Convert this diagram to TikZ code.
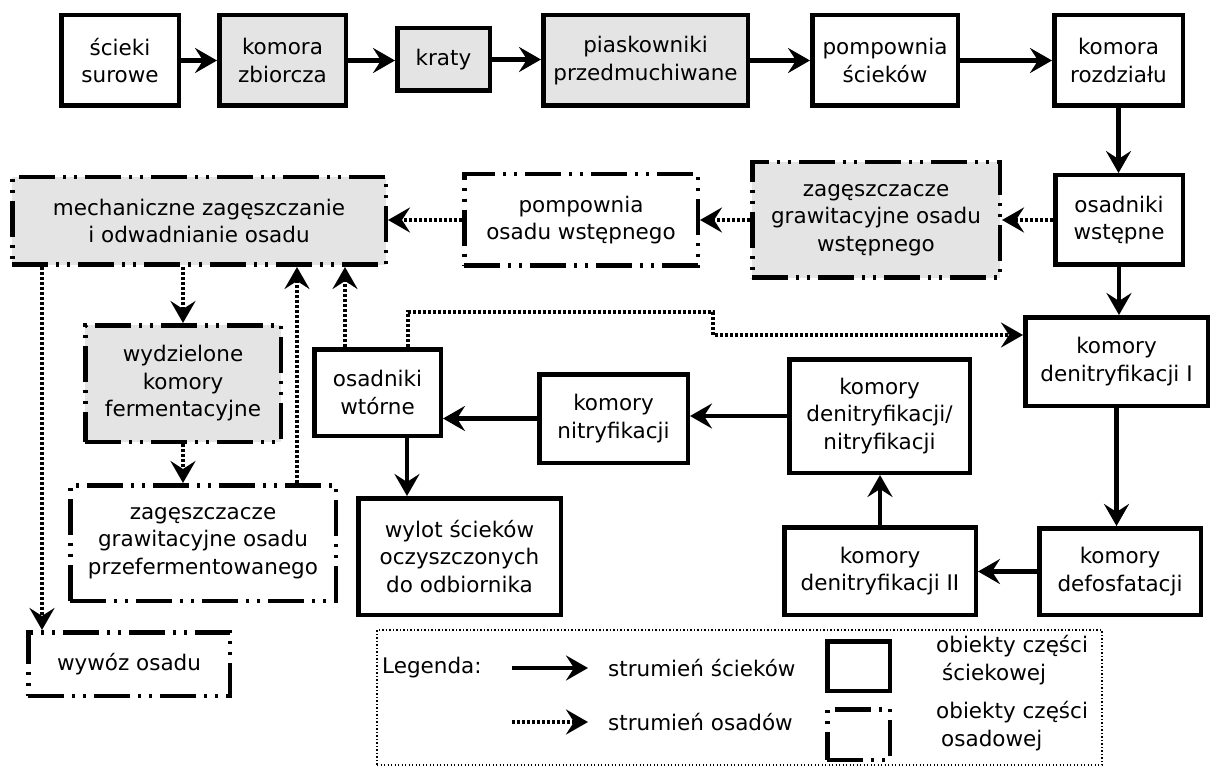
\documentclass[tikz,border=0pt]{standalone}
\usepackage{fontspec}
\setmainfont{DejaVu Sans}
\usetikzlibrary{arrows.meta,calc}
\definecolor{sludgefill}{HTML}{E4E4E4}

% box given by its outer corners: style, name, x1, y1, x2, y2, text
\newcommand\unitbox[7]{%
  \node[#1, minimum width={#5-#3-4.5}, minimum height={#6-#4-4.5}] (#2)
    at ({(#3+#5)/2},{(#4+#6)/2}) {#7};}

\begin{document}
\begin{tikzpicture}[x=1pt,y=-1pt,
  every node/.style={font=\fontsize{21.5}{27.5}\selectfont, align=center, inner sep=0pt},
  wbox/.style={draw, line width=4.5pt, fill=white},
  obox/.style={draw, line width=4.5pt, fill=white,
    dash pattern=on 36pt off 8pt on 3pt off 8pt on 3pt off 8pt},
  gbox/.style={obox, fill=sludgefill},
  gwbox/.style={wbox, fill=sludgefill},
  flow/.style={line width=4.5pt, -{Stealth[length=22pt,width=25pt,inset=8pt]}},
  sflow/.style={flow, dash pattern=on 3pt off 2pt},
  legframe/.style={draw, line width=1.3pt, dash pattern=on 1.3pt off 2.2pt},
]
\useasboundingbox (0,0) rectangle (1215,767);

% wastewater line, top row
\unitbox{wbox}{ss}{59}{13}{181}{108}{ścieki\\surowe}
\unitbox{gwbox}{kz}{217}{13}{348}{108}{komora\\zbiorcza}
\unitbox{gwbox}{kr}{395}{26}{492}{93}{kraty}
\unitbox{gwbox}{pp}{541}{13}{750}{108}{piaskowniki\\przedmuchiwane}
\unitbox{wbox}{ps}{810}{13}{960}{108}{pompownia\\ścieków}
\unitbox{wbox}{rz}{1052}{13}{1185}{108}{komora\\rozdziału}

% second row
\unitbox{gbox}{mech}{10}{175}{388}{267}{mechaniczne zagęszczanie\\i odwadnianie osadu}
\unitbox{obox}{po}{462}{172}{700}{268}{pompownia\\osadu wstępnego}
\unitbox{gbox}{zw}{750}{160}{1002}{280}{zagęszczacze\\grawitacyjne osadu\\wstępnego}
\unitbox{wbox}{ow}{1053}{173}{1185}{267}{osadniki\\wstępne}

% biological part
\unitbox{wbox}{d1}{1023}{315}{1210}{408}{komory\\denitryfikacji I}
\unitbox{wbox}{dn}{787}{357}{972}{475}{komory\\denitryfikacji/\\nitryfikacji}
\unitbox{wbox}{ni}{537}{372}{690}{465}{komory\\nitryfikacji}
\unitbox{wbox}{wt}{312}{347}{443}{438}{osadniki\\wtórne}
\unitbox{wbox}{wy}{356}{496}{563}{617}{wylot ścieków\\oczyszczonych\\do odbiornika}
\unitbox{wbox}{d2}{782}{525}{978}{617}{komory\\denitryfikacji II}
\unitbox{wbox}{df}{1037}{526}{1203}{617}{komory\\defosfatacji}

% sludge part
\unitbox{gbox}{wd}{83}{323}{283}{444}{wydzielone\\komory\\fermentacyjne}
\unitbox{obox}{zp}{68}{483}{338}{603}{zagęszczacze\\grawitacyjne osadu\\przefermentowanego}
\unitbox{obox}{wz}{26}{630}{232}{698}{wywóz osadu}

% wastewater flows
\draw[flow] (ss.east) -- (ss.east -| kz.west);
\draw[flow] (kz.east) -- (kz.east -| kr.west);
\draw[flow] (kr.east) -- (kr.east -| pp.west);
\draw[flow] (pp.east) -- (pp.east -| ps.west);
\draw[flow] (ps.east) -- (ps.east -| rz.west);
\draw[flow] (rz.south) -- (rz.south |- ow.north);
\draw[flow] (ow.south) -- (ow.south |- d1.north);
\draw[flow] (d1.south) -- (d1.south |- df.north);
\draw[flow] (df.west) -- (df.west -| d2.east);
\draw[flow] (d2.north) -- (d2.north |- dn.south);
\draw[flow] (dn.west) -- (dn.west -| ni.east);
\draw[flow] (ni.west) -- (ni.west -| wt.east);
\draw[flow] ([xshift=29.5pt]wt.south) -- ([xshift=29.5pt]wt.south |- wy.north);

% sludge flows
\draw[sflow] (ow.west) -- (ow.west -| zw.east);
\draw[sflow] (zw.west) -- (zw.west -| po.east);
\draw[sflow] (po.west) -- (po.west -| mech.east);
\draw[sflow] (wd.north |- mech.south) -- (wd.north);
\draw[sflow] (wd.south) -- (wd.south |- zp.north);
\draw[sflow] ([xshift=94pt]zp.north) -- ([xshift=94pt]zp.north |- mech.south);
\draw[sflow] ([xshift=-32.5pt]wt.north) -- ([xshift=-32.5pt]wt.north |- mech.south);
\draw[sflow] ([xshift=-157pt]mech.south) -- ([xshift=-157pt]mech.south |- wz.north);
\draw[sflow] ([xshift=30.5pt]wt.north) |- (713,312) |- ([yshift=26.5pt]d1.west);

% legend
\node[legframe, minimum width=725pt, minimum height=135pt] (leg) at (739.5,697.5) {};
\node[anchor=west] (legt) at (382,668) {Legenda:};
\coordinate (la1) at (512,668);
\coordinate (la2) at (588,668);
\coordinate (lb1) at (512,722);
\coordinate (lb2) at (588,722);
\draw[flow] (la1) -- (la2);
\draw[sflow] (lb1) -- (lb2);
\node[anchor=west] (lat) at (608,668) {strumień ścieków};
\node[anchor=west] (lbt) at (608,722) {strumień osadów};
\unitbox{wbox}{lsq1}{825}{639}{892}{693}{}
\unitbox{obox}{lsq2}{825}{707}{892}{762}{}
\node[anchor=west, align=left] (lst1) at (936,660) {obiekty części\\\hspace*{6pt}ściekowej};
\node[anchor=west, align=left] (lst2) at (936,726) {obiekty części\\\hspace*{5pt}osadowej};
\end{tikzpicture}
\end{document}
